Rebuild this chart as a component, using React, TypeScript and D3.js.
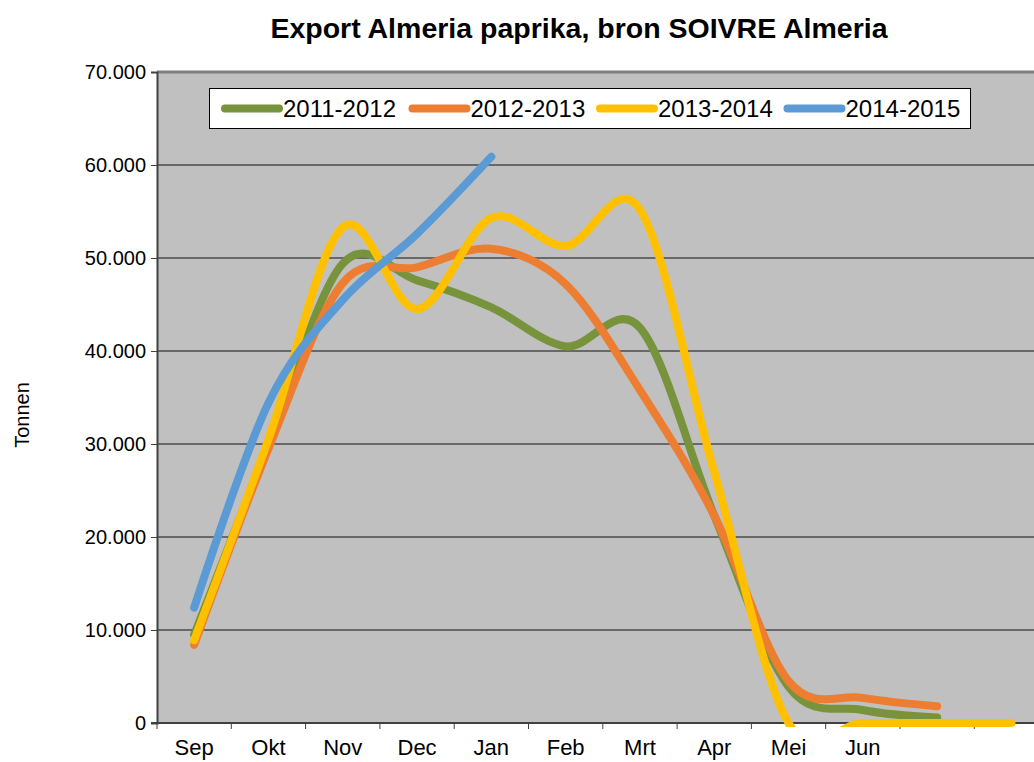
import { useEffect, useRef } from 'react'
import * as d3 from 'd3'

// months on the x axis (last two have no label in the original)
const months = ['Sep', 'Okt', 'Nov', 'Dec', 'Jan', 'Feb', 'Mrt', 'Apr', 'Mei', 'Jun', 'Jul', 'Aug']
const monthLabels = ['Sep', 'Okt', 'Nov', 'Dec', 'Jan', 'Feb', 'Mrt', 'Apr', 'Mei', 'Jun', '', '']

const seasons = ['2011-2012', '2012-2013', '2013-2014', '2014-2015']
const seasonColors = ['#77933c', '#ed7d31', '#ffc000', '#5b9bd5']

// tonnen per month
const s2011 = [9500, 29800, 49400, 47600, 44700, 40500, 42500, 22300, 3900, 1400, 600, null]
const s2012 = [8400, 29500, 47300, 49000, 51000, 47200, 35800, 22300, 4500, 2700, 1800, null]
const s2013 = [8900, 30500, 53300, 44500, 54300, 51300, 55200, 27000, 0, 0, 0, 0]
const s2014 = [12400, 34400, 45500, 52600, 60900, null, null, null, null, null, null, null]

const yTicks = [0, 10000, 20000, 30000, 40000, 50000, 60000, 70000]

export default function App() {
  const svgRef = useRef<SVGSVGElement>(null)

  useEffect(() => {
    if (!svgRef.current) return
    const svg = d3.select(svgRef.current)
    svg.selectAll('*').remove()

    const W = 1034
    const H = 762
    const left = 157
    const top = 72
    const bottom = 723
    const right = left + 12 * 74.3
    const font = 'Liberation Sans, Arial, sans-serif'

    const x = d3.scaleBand<number>().domain(d3.range(months.length)).range([left, right])
    const y = d3.scaleLinear().domain([0, 70000]).range([bottom, top])

    svg.append('rect').attr('width', W).attr('height', H).attr('fill', '#fff')

    // plot background
    svg.append('rect')
      .attr('x', left).attr('y', top)
      .attr('width', right - left).attr('height', bottom - top)
      .attr('fill', '#c0c0c0')

    // gridlines
    svg.append('g')
      .selectAll('line')
      .data(yTicks.filter(d => d > 0 && d < 70000))
      .join('line')
      .attr('x1', left).attr('x2', right)
      .attr('y1', d => y(d)).attr('y2', d => y(d))
      .attr('stroke', '#111')
      .attr('stroke-width', 1.2)

    // top border of plot
    svg.append('line')
      .attr('x1', left).attr('x2', right)
      .attr('y1', y(70000)).attr('y2', y(70000))
      .attr('stroke', '#7f7f7f').attr('stroke-width', 3)

    // y axis
    const yAxis = svg.append('g')
      .attr('transform', `translate(${left},0)`)
      .call(d3.axisLeft(y).tickValues(yTicks).tickSize(6).tickPadding(5)
        .tickFormat(d => d === 0 ? '0' : d3.format(',')(d as number).replace(',', '.')))
    yAxis.select('.domain').attr('stroke', '#404040').attr('stroke-width', 2)
    yAxis.selectAll('.tick line').attr('stroke', '#404040')
    yAxis.selectAll('text')
      .attr('font-family', font)
      .attr('font-size', 20).attr('fill', '#000')

    // x axis
    const xAxis = svg.append('g')
      .attr('transform', `translate(0,${bottom})`)
      .call(d3.axisBottom(x).tickSize(0).tickPadding(16).tickFormat(i => monthLabels[i as number]))
    xAxis.select('.domain').remove()
    xAxis.selectAll('text')
      .attr('font-family', font)
      .attr('font-size', 22).attr('fill', '#000')
    // category boundary ticks
    svg.append('g')
      .selectAll('line')
      .data(d3.range(months.length + 1))
      .join('line')
      .attr('x1', i => left + i * x.step()).attr('x2', i => left + i * x.step())
      .attr('y1', bottom).attr('y2', bottom + 6)
      .attr('stroke', '#404040')
    svg.append('line')
      .attr('x1', left - 6).attr('x2', right)
      .attr('y1', bottom).attr('y2', bottom)
      .attr('stroke', '#404040').attr('stroke-width', 2)

    // series
    svg.append('defs').append('clipPath').attr('id', 'plotclip')
      .append('rect')
      .attr('x', left).attr('y', top - 6)
      .attr('width', right - left).attr('height', bottom - top + 10)

    const line = d3.line<number | null>()
      .defined(d => d !== null)
      .x((_, i) => (x(i) as number) + x.bandwidth() / 2)
      .y(d => y(d as number))
      .curve(d3.curveCardinal.tension(0))

    const series = [s2011, s2012, s2013, s2014]
    svg.append('g').attr('clip-path', 'url(#plotclip)')
      .selectAll('path')
      .data(series)
      .join('path')
      .attr('d', d => line(d))
      .attr('fill', 'none')
      .attr('stroke', (_, i) => seasonColors[i])
      .attr('stroke-width', 8)
      .attr('stroke-linecap', 'round')
      .attr('stroke-linejoin', 'round')

    // legend
    const lg = svg.append('g')
    lg.append('rect')
      .attr('x', 209.5).attr('y', 88.5).attr('width', 761).attr('height', 40)
      .attr('fill', '#fff').attr('stroke', '#000').attr('stroke-width', 1)
    seasons.forEach((s, i) => {
      const lx = 222 + i * 187.5
      lg.append('line')
        .attr('x1', lx + 3).attr('x2', lx + 57)
        .attr('y1', 108.5).attr('y2', 108.5)
        .attr('stroke', seasonColors[i]).attr('stroke-width', 8)
        .attr('stroke-linecap', 'round')
      lg.append('text')
        .attr('x', lx + 61).attr('y', 117)
        .attr('font-family', font)
        .attr('font-size', 24)
        .text(s)
    })

    // title
    svg.append('text')
      .attr('x', 579).attr('y', 38)
      .attr('text-anchor', 'middle')
      .attr('font-family', font)
      .attr('font-weight', 'bold')
      .attr('font-size', 28.5)
      .text('Export Almeria paprika, bron SOIVRE Almeria')

    // y axis title
    svg.append('text')
      .attr('transform', 'translate(29,415) rotate(-90)')
      .attr('text-anchor', 'middle')
      .attr('font-family', font)
      .attr('font-size', 20)
      .text('Tonnen')
  }, [])

  return (
    <svg ref={svgRef} width={1034} height={762}
      style={{ position: 'absolute', left: 0, top: 0, display: 'block' }} />
  )
}
